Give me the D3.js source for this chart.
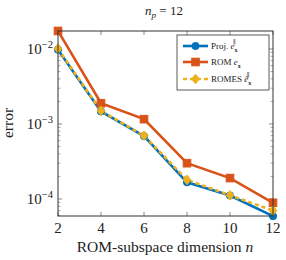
<!DOCTYPE html>
<html>
<head>
<meta charset="utf-8">
<script src="https://cdn.jsdelivr.net/npm/d3@7"></script>
<style>
  body { margin: 0; background: #fff; }
  text { font-family: "Liberation Serif", "DejaVu Serif", serif; fill: #222; }
</style>
</head>
<body>
<svg id="chart" width="286" height="260"></svg>
<script>
// ROM subspace dimension
var dims = [2, 4, 6, 8, 10, 12];
var projErr = [0.0098, 0.00147, 0.00069, 0.000167, 0.000111, 0.000059];
var romErr = [0.0174, 0.00189, 0.00116, 0.0003, 0.00019, 0.000089];
var romesErr = [0.0101, 0.0015, 0.0007, 0.00018, 0.000112, 0.00007];
var xTicks = [2, 4, 6, 8, 10, 12];
var yTicks = [1e-4, 1e-3, 1e-2];

var margin = {left: 58, right: 13, top: 31, bottom: 44};
var width = 286, height = 260;

var svg = d3.select('#chart');

var x = d3.scaleLinear().domain([2, 12]).range([margin.left, width - margin.right]);
var y = d3.scaleLog().domain([10 ** -4.227, 10 ** -1.76]).range([height - margin.bottom, margin.top]);

var series = [
  {name: 'proj', values: projErr, color: '#0072bd', marker: 'circle', dash: null},
  {name: 'rom', values: romErr, color: '#d95319', marker: 'square', dash: null},
  {name: 'romes', values: romesErr, color: '#edb120', marker: 'diamond', dash: '4,3'}
];

// minor ticks for the log axis
var minor = [];
[1e-5, 1e-4, 1e-3, 1e-2].forEach(function(d) {
  for (var k = 2; k < 10; k++) {
    var v = d * k;
    if (v >= y.domain()[0] && v <= y.domain()[1]) minor.push(v);
  }
});

var x0 = margin.left, x1 = width - margin.right;
var y0 = height - margin.bottom, y1 = margin.top;
var tickColor = '#888';

// ticks pointing inward on all four sides
var g = svg.append('g');
xTicks.forEach(function(t) {
  g.append('line').attr('x1', x(t)).attr('x2', x(t)).attr('y1', y0).attr('y2', y0 - 4).attr('stroke', tickColor);
  g.append('line').attr('x1', x(t)).attr('x2', x(t)).attr('y1', y1).attr('y2', y1 + 4).attr('stroke', tickColor);
});
yTicks.forEach(function(t) {
  g.append('line').attr('x1', x0).attr('x2', x0 + 4).attr('y1', y(t)).attr('y2', y(t)).attr('stroke', tickColor);
  g.append('line').attr('x1', x1).attr('x2', x1 - 4).attr('y1', y(t)).attr('y2', y(t)).attr('stroke', tickColor);
});
minor.forEach(function(t) {
  g.append('line').attr('x1', x0).attr('x2', x0 + 2.5).attr('y1', y(t)).attr('y2', y(t)).attr('stroke', tickColor).attr('stroke-width', 0.7);
  g.append('line').attr('x1', x1).attr('x2', x1 - 2.5).attr('y1', y(t)).attr('y2', y(t)).attr('stroke', tickColor).attr('stroke-width', 0.7);
});

// tick labels
svg.selectAll('.xlab').data(xTicks).enter().append('text')
  .attr('x', function(d) { return x(d); })
  .attr('y', y0 + 17)
  .attr('text-anchor', 'middle')
  .attr('font-size', 15)
  .text(function(d) { return d; });

var yl = svg.selectAll('.ylab').data(yTicks).enter().append('text')
  .attr('x', x0 - 5)
  .attr('y', function(d) { return y(d) + 5; })
  .attr('text-anchor', 'end')
  .attr('font-size', 15);
yl.append('tspan').text('10');
yl.append('tspan').attr('dy', -6).attr('font-size', 10.5)
  .text(function(d) { return '\u2212' + Math.round(-Math.log10(d)); });

// lines
var line = d3.line().x(function(d, i) { return x(dims[i]); }).y(function(d) { return y(d); });

series.forEach(function(s) {
  svg.append('path')
    .attr('d', line(s.values))
    .attr('fill', 'none')
    .attr('stroke', s.color)
    .attr('stroke-width', 2.6)
    .attr('stroke-dasharray', s.dash);
});

function drawMarker(sel, s, cx, cy) {
  if (s.marker === 'circle') {
    sel.append('circle').attr('cx', cx).attr('cy', cy).attr('r', 3.6)
      .attr('fill', s.color).attr('stroke', s.color);
  } else if (s.marker === 'square') {
    sel.append('rect').attr('x', cx - 3.8).attr('y', cy - 3.8).attr('width', 7.6).attr('height', 7.6)
      .attr('fill', s.color).attr('stroke', s.color);
  } else {
    sel.append('path').attr('d', 'M' + cx + ',' + (cy - 4.8) + 'L' + (cx + 3.8) + ',' + cy +
        'L' + cx + ',' + (cy + 4.8) + 'L' + (cx - 3.8) + ',' + cy + 'Z')
      .attr('fill', s.color).attr('stroke', s.color);
  }
}

series.forEach(function(s) {
  var mg = svg.append('g');
  s.values.forEach(function(v, i) { drawMarker(mg, s, x(dims[i]), y(v)); });
});

// axis frame
svg.append('rect').attr('x', x0).attr('y', y1).attr('width', x1 - x0).attr('height', y0 - y1)
  .attr('fill', 'none').attr('stroke', '#333').attr('stroke-width', 1);

// legend
var lg = svg.append('g');
lg.append('rect').attr('x', 177).attr('y', 35).attr('width', 92).attr('height', 55)
  .attr('fill', '#fff').attr('stroke', '#333').attr('stroke-width', 0.8);
var legendY = [46, 62, 79];
series.forEach(function(s, i) {
  lg.append('line').attr('x1', 183).attr('x2', 208).attr('y1', legendY[i]).attr('y2', legendY[i])
    .attr('stroke', s.color).attr('stroke-width', 2.6).attr('stroke-dasharray', s.dash);
  drawMarker(lg, s, 195.5, legendY[i]);
});

function legendText(i, base, tilde, sup) {
  var t = lg.append('text').attr('x', 211).attr('y', legendY[i] + 3).attr('font-size', 9);
  t.append('tspan').text(base + ' ');
  t.append('tspan').attr('font-style', 'italic').text(tilde ? 'e\u0303' : 'e');
  t.append('tspan').attr('dy', 3).attr('font-size', 6).attr('font-weight', 'bold').text('x');
  if (sup) {
    // parallel sign stacked above the subscript, as its own text
    var bb = t.node().getBBox();
    lg.append('text').attr('x', bb.x + bb.width - 4.5).attr('y', legendY[i] - 2)
      .attr('font-size', 6).text('\u2225');
  }
}
legendText(0, 'Proj.', false, true);
legendText(1, 'ROM', false, false);
legendText(2, 'ROMES', true, true);

// title and axis labels
var title = svg.append('text').attr('x', 164).attr('y', 15).attr('text-anchor', 'middle').attr('font-size', 13);
title.append('tspan').attr('font-style', 'italic').text('n');
title.append('tspan').attr('dy', 3).attr('font-size', 9).attr('font-style', 'italic').text('p');
title.append('tspan').attr('dy', -3).text(' = 12');

var xl = svg.append('text').attr('x', 165).attr('y', 252).attr('text-anchor', 'middle').attr('font-size', 15.5);
xl.append('tspan').text('ROM-subspace dimension ');
xl.append('tspan').attr('font-style', 'italic').text('n');

svg.append('text').attr('transform', 'translate(13,123) rotate(-90)')
  .attr('text-anchor', 'middle').attr('font-size', 15.5).text('error');
</script>
</body>
</html>
